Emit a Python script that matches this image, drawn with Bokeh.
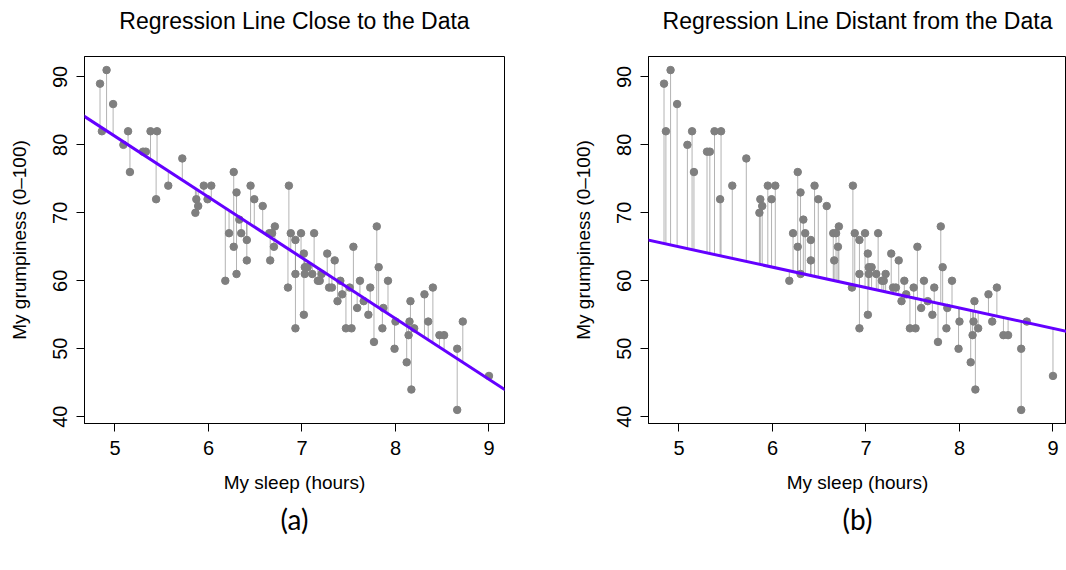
from bokeh.plotting import figure
from bokeh.models import Range1d, Slope, Title, ColumnDataSource
from bokeh.layouts import row
from bokeh.embed import file_html
from bokeh.resources import INLINE

sleep = [4.84, 4.86, 4.91, 4.98, 5.09, 5.14, 5.16, 5.30, 5.33, 5.38,
         5.44, 5.45, 5.57, 5.72, 5.87, 5.89, 5.86, 5.95, 5.99, 6.03,
         6.18, 6.22, 6.27, 6.27, 6.30, 6.30, 6.33, 6.35, 6.41, 6.41,
         6.45, 6.49, 6.58, 6.65, 6.66, 6.68, 6.71, 6.70, 6.86, 6.85,
         6.88, 6.93, 6.93, 6.93, 6.99, 7.02, 7.03, 7.03, 7.02, 7.06,
         7.11, 7.13, 7.17, 7.19, 7.21, 7.27, 7.29, 7.32, 7.35, 7.38,
         7.41, 7.43, 7.47, 7.51, 7.53, 7.55, 7.59, 7.62, 7.66,
         7.71, 7.73, 7.77, 7.80, 7.82, 7.86, 7.87, 7.92, 8.00, 7.99,
         8.12, 8.14, 8.16, 8.15, 8.17, 8.20, 8.31, 8.35, 8.40, 8.47,
         8.52, 8.66, 8.66, 8.72, 9.00]
grump = [89, 82, 91, 86, 80, 82, 76, 79, 79, 82,
         72, 82, 74, 78, 72, 71, 70, 74, 72, 74,
         60, 67, 76, 65, 73, 61, 69, 67, 66, 63,
         74, 72, 71, 67, 63, 67, 68, 65, 74, 59,
         67, 66, 61, 53, 67, 64, 62, 61, 55, 62,
         61, 67, 60, 60, 61, 64, 59, 59, 63, 57,
         60, 58, 53, 59, 53, 65, 56, 60, 57,
         55, 59, 51, 68, 62, 53, 56, 60, 54, 50,
         48, 52, 57, 54, 44, 53, 58, 54, 59, 52,
         52, 50, 41, 54, 46]

intercepts = [125.96, 80.0]
slopes = [-8.94, -3.0]
titles = ["Regression Line Close to the Data", "Regression Line Distant from the Data"]
captions = ["(a)", "(b)"]
x_ticks = [5, 6, 7, 8, 9]
y_ticks = [40, 50, 60, 70, 80, 90]
x_label = "My sleep (hours)"
y_label = "My grumpiness (0\u2013100)"

FONT = "Liberation Sans"


def panel(i, width, mbl, mbr, x_end):
    b0, b1 = intercepts[i], slopes[i]
    fitted = [b0 + b1 * x for x in sleep]
    src = ColumnDataSource(dict(x=sleep, y=grump, yhat=fitted))
    p = figure(width=width, height=560, output_backend="svg", toolbar_location=None,
               x_range=Range1d(4.674, x_end), y_range=Range1d(39, 93),
               min_border_left=mbl, min_border_right=mbr,
               min_border_top=56, min_border_bottom=137,
               background_fill_color="white", border_fill_color="white")
    # spacer between frame and title
    p.add_layout(Title(text=" ", text_font=FONT, text_font_size="14px",
                       standoff=0), "above")
    p.add_layout(Title(text=titles[i], align="center", text_font=FONT,
                       text_font_size="23px", text_font_style="normal",
                       text_color="black"), "above")
    p.add_layout(Title(text=captions[i], align="center", text_font="Lato",
                       text_font_size="28px", text_font_style="normal",
                       text_color="black", standoff=8), "below")

    p.grid.visible = False
    p.outline_line_color = "black"
    p.outline_line_alpha = 1.0
    p.outline_line_width = 1

    for ax in (p.xaxis, p.yaxis):
        ax.major_tick_in = 0
        ax.major_tick_out = 8
        ax.minor_tick_line_color = None
        ax.axis_line_color = "black"
        ax.major_tick_line_color = "black"
        ax.major_label_text_font = FONT
        ax.major_label_text_font_size = "20px"
        ax.major_label_text_color = "black"
        ax.axis_label_text_font = FONT
        ax.axis_label_text_font_size = "19px"
        ax.axis_label_text_font_style = "normal"
        ax.axis_label_text_color = "black"
    p.xaxis.ticker = x_ticks
    p.yaxis.ticker = y_ticks
    p.xaxis.axis_label = x_label
    p.yaxis.axis_label = y_label
    p.xaxis.major_label_standoff = 9
    p.xaxis.axis_label_standoff = 14
    p.yaxis.major_label_standoff = 9
    p.yaxis.axis_label_standoff = 21
    p.yaxis.major_label_orientation = "vertical"

    p.segment(x0="x", y0="y", x1="x", y1="yhat", source=src,
              line_color="#808080", line_alpha=0.6, line_width=1)
    p.scatter("x", "y", source=src, size=7.5, fill_color="#7f7f7f",
              line_color="#7f7f7f")
    p.add_layout(Slope(gradient=b1, y_intercept=b0, line_color="#6400ff",
                       line_width=3))
    return p


p1 = panel(0, 568, 84, 64, 9.166)
p2 = panel(1, 498, 80, 0, 4.674 + 418 / 93.5)
layout = row(p1, p2)

open("out.html", "w").write(file_html(layout, INLINE))
